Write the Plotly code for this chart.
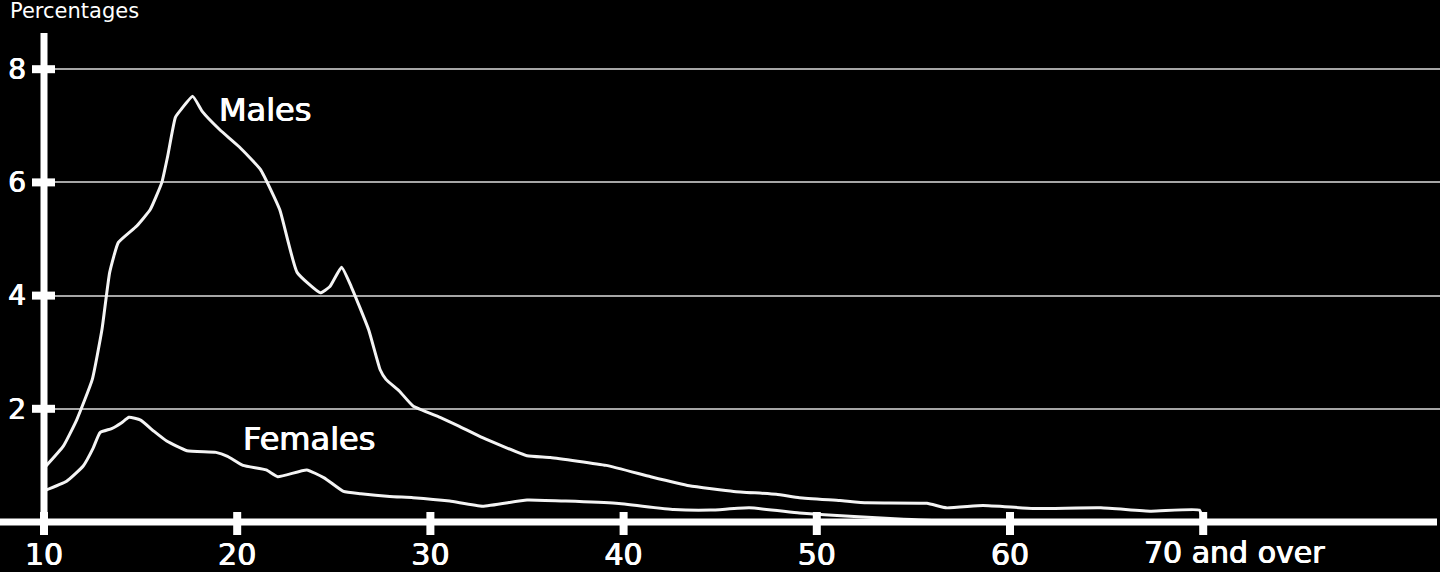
import plotly.graph_objects as go

# ---- data ----
male_ages = [10.0, 11.0, 11.7, 12.5, 13.0, 13.4, 13.85, 14.8, 15.5, 16.1, 16.4, 16.8, 17.1, 17.7,
             18.2, 19.1, 20.1, 21.2, 22.2, 23.1, 24.3, 24.8, 25.4, 25.9, 26.8, 27.4, 27.7, 28.4,
             29.1, 30.5, 31.5, 32.7, 35.0, 36.2, 39.1, 41.4, 43.4, 45.7, 47.9, 49.1, 51.2, 52.6,
             55.7, 56.7, 58.6, 61.2, 64.7, 67.3, 69.8, 70.0]
male_pct = [0.95, 1.34, 1.81, 2.52, 3.40, 4.41, 4.94, 5.23, 5.52, 6.00, 6.46, 7.15, 7.29, 7.52,
            7.25, 6.93, 6.63, 6.23, 5.52, 4.41, 4.05, 4.16, 4.50, 4.16, 3.40, 2.69, 2.52, 2.31,
            2.05, 1.85, 1.69, 1.49, 1.17, 1.14, 1.00, 0.80, 0.64, 0.54, 0.49, 0.43, 0.38, 0.34,
            0.33, 0.25, 0.29, 0.24, 0.25, 0.19, 0.21, 0.03]

female_ages = [10.0, 11.17, 12.03, 12.55, 12.9, 13.5, 14.0, 14.4, 15.0, 15.7, 16.35, 17.4, 18.9,
               19.5, 20.3, 21.5, 22.1, 23.6, 24.5, 25.5, 26.4, 27.9, 29.1, 31.0, 32.7, 35.0,
               37.0, 39.6, 42.6, 44.5, 46.5, 49.1, 51.7, 54.5, 57.0, 70.0]
female_pct = [0.55, 0.72, 0.99, 1.31, 1.58, 1.65, 1.75, 1.85, 1.80, 1.60, 1.43, 1.26, 1.23,
              1.16, 1.00, 0.92, 0.80, 0.92, 0.78, 0.54, 0.50, 0.45, 0.43, 0.37, 0.28, 0.39,
              0.37, 0.33, 0.22, 0.21, 0.25, 0.16, 0.10, 0.05, 0.02, 0.02]

x_ticks = [10, 20, 30, 40, 50, 60, 70]
x_tick_labels = ["10", "20", "30", "40", "50", "60", ""]
last_label = "70 and over"
y_ticks = [2, 4, 6, 8]
y_tick_labels = ["2", "4", "6", "8"]
y_title = "Percentages"

FONT = "DejaVu Sans"
BOLDISH = "0.5px 0 0 #ffffff, -0.5px 0 0 #ffffff"
W, H = 1440, 572
ML, MR, MT, MB = 44, 0, 30, 50
PLOT_W, PLOT_H = W - ML - MR, H - MT - MB
X_MIN, X_MAX = 10, 10 + PLOT_W / 19.32
Y_MIN, Y_MAX = 0, PLOT_H / 56.6


def px(v):
    return (v - X_MIN) / (X_MAX - X_MIN)


def py(v):
    return (v - Y_MIN) / (Y_MAX - Y_MIN)


fig = go.Figure()
fig.add_trace(go.Scatter(x=male_ages, y=male_pct, mode="lines",
                         line=dict(color="#f4f4f4", width=3, shape="spline", smoothing=0.4),
                         name="Males", hoverinfo="x+y", showlegend=False))
fig.add_trace(go.Scatter(x=female_ages, y=female_pct, mode="lines",
                         line=dict(color="#f4f4f4", width=3, shape="spline", smoothing=0.4),
                         name="Females", hoverinfo="x+y", showlegend=False))

shapes = []
# x axis line (extends left past the y axis)
shapes.append(dict(type="line", xref="paper", yref="paper", x0=-ML / PLOT_W,
                   x1=(1437 - ML) / PLOT_W, y0=0, y1=0,
                   line=dict(color="white", width=7), layer="above"))
# y axis line
shapes.append(dict(type="line", xref="paper", yref="paper", x0=0, x1=0,
                   y0=-13 / PLOT_H, y1=(PLOT_H - 3) / PLOT_H,
                   line=dict(color="white", width=7), layer="above"))
# x tick marks
for v in x_ticks:
    shapes.append(dict(type="rect", xref="paper", yref="paper", xsizemode="pixel",
                       xanchor=px(v), x0=-4, x1=4, ysizemode="pixel", yanchor=0,
                       y0=-13, y1=10, fillcolor="white", line=dict(width=0), layer="above"))
# y tick marks
for v in y_ticks:
    shapes.append(dict(type="rect", xref="paper", yref="paper", xsizemode="pixel", xanchor=0,
                       x0=-12, x1=11, ysizemode="pixel", yanchor=py(v), y0=-4, y1=4,
                       fillcolor="white", line=dict(width=0), layer="above"))

annotations = [
    dict(text="Males", x=21.46, y=7.28, xref="x", yref="y", showarrow=False,
         xanchor="center", yanchor="middle",
         font=dict(family=FONT, size=32, color="white", shadow=BOLDISH)),
    dict(text="Females", x=23.74, y=1.47, xref="x", yref="y", showarrow=False,
         xanchor="center", yanchor="middle",
         font=dict(family=FONT, size=32, color="white", shadow=BOLDISH)),
    dict(text=y_title, x=(8 - ML) / PLOT_W, y=(PLOT_H + 30 - 10.5) / PLOT_H,
         xref="paper", yref="paper", showarrow=False, xanchor="left", yanchor="middle",
         font=dict(family=FONT, size=21, color="white")),
    dict(text=last_label, x=10 + (1143 - ML) / 19.32, y=-(571 - (H - MB)) / PLOT_H,
         xref="x", yref="paper", showarrow=False, xanchor="left", yanchor="bottom",
         borderpad=0,
         font=dict(family=FONT, size=30, color="white", shadow=BOLDISH)),
]

fig.update_layout(
    width=W, height=H,
    margin=dict(l=ML, r=MR, t=MT, b=MB, pad=0, autoexpand=False),
    paper_bgcolor="black", plot_bgcolor="black",
    shapes=shapes, annotations=annotations,
    xaxis=dict(range=[X_MIN, X_MAX], tickvals=x_ticks, ticktext=x_tick_labels,
               showgrid=False, zeroline=False, showline=False, ticks="",
               ticklabelstandoff=12, automargin=False,
               tickfont=dict(family=FONT, size=30, color="white", shadow=BOLDISH),
               fixedrange=True),
    yaxis=dict(range=[Y_MIN, Y_MAX], tickvals=y_ticks, ticktext=y_tick_labels,
               showgrid=True, gridcolor="#a6a6a6", gridwidth=2, zeroline=False,
               showline=False, ticks="", ticklabelstandoff=17, automargin=False,
               tickfont=dict(family=FONT, size=28, color="white", shadow=BOLDISH),
               fixedrange=True),
    showlegend=False,
)

fig.write_html(
    "out.html",
    config={"displayModeBar": False},
    post_script="document.body.style.margin='0px';document.body.style.overflow='hidden';"
                "document.body.style.background='black';",
)
